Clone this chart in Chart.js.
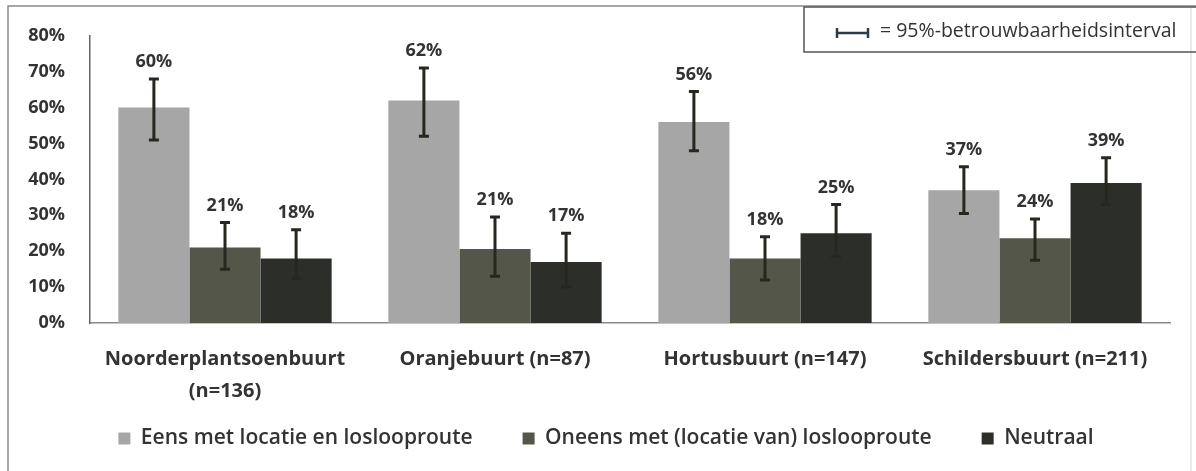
<!DOCTYPE html>
<html>
<head>
<meta charset="utf-8">
<script src="https://cdn.jsdelivr.net/npm/chart.js@4.4.1/dist/chart.umd.min.js"></script>
<style>
  html, body { margin: 0; padding: 0; background: #fff; }
  #wrap { width: 1196px; height: 471px; }
</style>
</head>
<body>
<div id="wrap"><canvas id="barChart" width="1196" height="471"></canvas></div>
<script>
// categories
var buurten = [["Noorderplantsoenbuurt", "(n=136)"], "Oranjebuurt (n=87)", "Hortusbuurt (n=147)", "Schildersbuurt (n=211)"];

// percentages per answer
var eens = [60, 62, 56, 37];
var oneens = [21, 20.6, 18, 23.6];
var neutraal = [18, 17, 25, 39];

// 95% interval bounds
var eensLo = [51, 52, 48, 30.5];
var eensHi = [68, 71, 64.5, 43.5];
var oneensLo = [15, 13, 12, 17.5];
var oneensHi = [28, 29.5, 24, 29];
var neutraalLo = [12.5, 10, 18.5, 33];
var neutraalHi = [26, 25, 33, 46];

var yTicks = [0, 10, 20, 30, 40, 50, 60, 70, 80];

var intervals = [[eensLo, eensHi], [oneensLo, oneensHi], [neutraalLo, neutraalHi]];

var fontName = "'Open Sans', sans-serif";

// error bars + value labels on top
var errorBars = {
    id: 'errorBars',
    afterDatasetsDraw: function(chart) {
        var ctx = chart.ctx;
        var y = chart.scales.y;
        ctx.save();
        chart.data.datasets.forEach(function(ds, di) {
            var meta = chart.getDatasetMeta(di);
            meta.data.forEach(function(bar, i) {
                var top = y.getPixelForValue(intervals[di][1][i]);
                var bot = y.getPixelForValue(intervals[di][0][i]);
                ctx.strokeStyle = '#26271f';
                ctx.lineWidth = 3;
                ctx.beginPath();
                ctx.moveTo(bar.x, top); ctx.lineTo(bar.x, bot);
                ctx.moveTo(bar.x - 5, top); ctx.lineTo(bar.x + 5, top);
                ctx.moveTo(bar.x - 5, bot); ctx.lineTo(bar.x + 5, bot);
                ctx.stroke();
                ctx.fillStyle = '#333';
                ctx.font = "bold 18px " + fontName;
                ctx.textAlign = 'center';
                ctx.textBaseline = 'middle';
                ctx.fillText(Math.round(ds.data[i]) + '%', bar.x, top - 17);
            });
        });
        ctx.restore();
    }
};

// frame and the interval key box
var frame = {
    id: 'frame',
    afterDraw: function(chart) {
        var ctx = chart.ctx;
        ctx.save();
        ctx.strokeStyle = '#8a8a8a';
        ctx.lineWidth = 1.5;
        ctx.beginPath();
        ctx.moveTo(8, 480); ctx.lineTo(8, 6); ctx.lineTo(1196, 6);
        ctx.stroke();
        ctx.strokeStyle = '#e2e2e2';
        ctx.beginPath(); ctx.moveTo(1191, 6); ctx.lineTo(1191, 480); ctx.stroke();

        ctx.strokeStyle = '#555';
        ctx.lineWidth = 1.5;
        ctx.strokeRect(804, 7, 400, 45);
        ctx.strokeStyle = '#2c3a4a';
        ctx.lineWidth = 2.5;
        ctx.beginPath();
        ctx.moveTo(836, 33); ctx.lineTo(869, 33);
        ctx.moveTo(837, 28); ctx.lineTo(837, 38);
        ctx.moveTo(868, 28); ctx.lineTo(868, 38);
        ctx.stroke();
        ctx.fillStyle = '#333';
        ctx.font = "19.5px " + fontName;
        ctx.textAlign = 'left';
        ctx.textBaseline = 'middle';
        ctx.fillText('= 95%-betrouwbaarheidsinterval', 880, 31);
        ctx.restore();
    }
};

// legend: wide item gaps, but drawn higher than its padding would put it
var legendFit = {
    id: 'legendFit',
    beforeInit: function(chart) {
        var lg = chart.legend;
        var origFit = lg.fit;
        var origDraw = lg.draw;
        lg.fit = function() {
            origFit.bind(lg)();
            this.height = 61;
        };
        lg.draw = function() {
            var t = lg.top, l = lg.left, r = lg.right;
            lg.top = t - 32;
            lg.left = l + 17;
            lg.right = r + 17;
            origDraw.bind(lg)();
            lg.top = t; lg.left = l; lg.right = r;
        };
    }
};

var ctx = document.getElementById("barChart").getContext('2d');
var myBarChart = new Chart(ctx, {
    type: 'bar',
    data: {
        labels: buurten,
        datasets: [{
            label: "Eens met locatie en loslooproute",
            backgroundColor: "#a6a6a6",
            data: eens
        }, {
            label: "Oneens met (locatie van) loslooproute",
            backgroundColor: "#55564a",
            data: oneens
        }, {
            label: "Neutraal",
            backgroundColor: "#2c2f29",
            data: neutraal
        }]
    },
    options: {
        responsive: false,
        animation: false,
        devicePixelRatio: 1,
        layout: { padding: { left: 8, right: 26, top: 35, bottom: 0 } },
        barPercentage: 1,
        categoryPercentage: 0.79,
        plugins: {
            tooltip: { enabled: false },
            legend: {
                position: 'bottom',
                labels: {
                    boxWidth: 12,
                    boxHeight: 12,
                    padding: 50,
                    color: '#333',
                    font: { family: fontName, size: 21, weight: '600' }
                }
            }
        },
        scales: {
            x: {
                grid: { display: false, drawTicks: false },
                border: { display: true, color: '#8a8a8a', width: 1.5 },
                ticks: {
                    padding: 20,
                    color: '#333',
                    maxRotation: 0,
                    font: { family: fontName, size: 20, weight: 'bold', lineHeight: 32 / 20 }
                },
                afterFit: function(s) { s.height = 87; }
            },
            y: {
                min: 0,
                max: 80,
                grid: { display: false, drawTicks: false },
                border: { display: true, color: '#666', width: 1.5 },
                afterBuildTicks: function(s) {
                    s.ticks = yTicks.map(function(v) { return { value: v }; });
                },
                ticks: {
                    padding: 25,
                    color: '#333',
                    font: { family: fontName, size: 18, weight: 'bold' },
                    callback: function(v) { return v + '%'; }
                },
                afterFit: function(s) { s.width = 82; }
            }
        }
    },
    plugins: [errorBars, frame, legendFit]
});
</script>
</body>
</html>
